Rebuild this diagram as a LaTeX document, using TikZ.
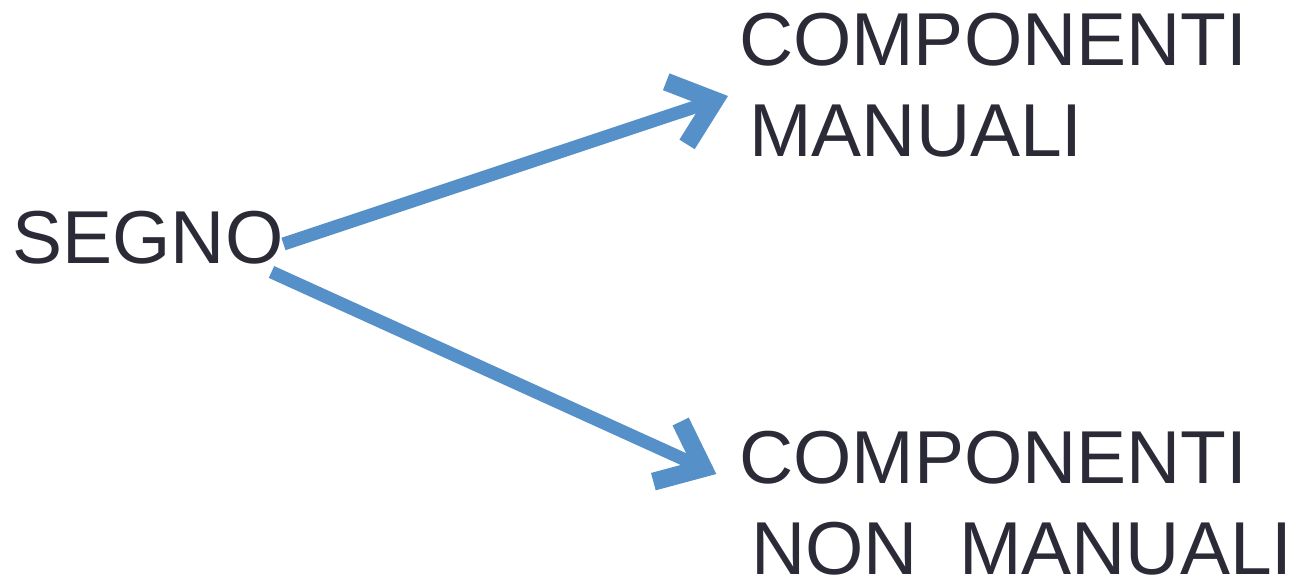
\documentclass[tikz,border=0pt]{standalone}
\usepackage{fontspec}
\setmainfont{Liberation Sans}
\usetikzlibrary{arrows.meta,calc}
\definecolor{txt}{RGB}{43,43,56}
\definecolor{arr}{RGB}{86,144,200}
\begin{document}
\begin{tikzpicture}[x=1pt,y=-1pt,
  lbl/.style={inner sep=0pt,outer sep=0pt,anchor=base west,align=left,text=txt,
    font=\fontsize{75}{91}\selectfont},
  bigarrow/.style={draw=arr,line width=13pt,
    -{Straight Barb[sharp,length=40pt,width=66pt,line width=18pt]}}]
\useasboundingbox (0,0) rectangle (1291,580);
\node[lbl] (segno) at (12.6,264) {SEGNO};
\node[lbl] (man) at (739,157) {COMPONENTI\\\hspace*{10.4pt}MANUALI};
\node[lbl] (nonman) at (739.3,574) {COMPONENTI\\\hspace*{11.7pt}NON\ \ MANUALI};
\draw[bigarrow] ($(segno.base east)+(0,-20)$) -- ($(man.base west)+(-11,-61)$);
\draw[bigarrow] ($(segno.base east)+(-12,8)$) -- ($(nonman.base west)+(-23,-100)$);
\end{tikzpicture}
\end{document}
